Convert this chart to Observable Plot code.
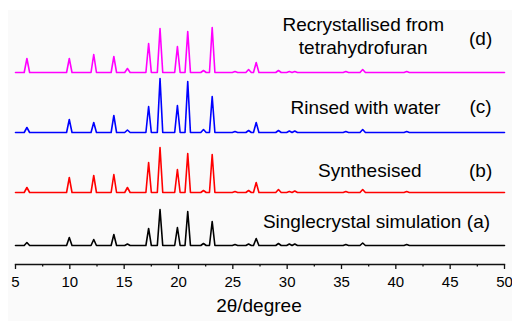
<!DOCTYPE html>
<html>
<head>
<meta charset="utf-8">
<script src="https://cdn.jsdelivr.net/npm/d3@7"></script>
<script src="https://cdn.jsdelivr.net/npm/@observablehq/plot@0.6"></script>
<style>
  html, body { margin: 0; padding: 0; background: #ffffff; }
  #wrap { position: relative; width: 512px; height: 321px; overflow: hidden; }
  #bg { position: absolute; left: 8px; top: 10px; width: 504px; height: 311px; background: #fafafa; }
  #chart { position: absolute; left: 0; top: 0; }
</style>
</head>
<body>
<div id="wrap"><div id="bg"></div><div id="chart"></div></div>
<script>
// Peak positions (2θ, degrees)
const peakPositions = [6.05, 9.95, 12.2, 14.05, 15.3, 17.25, 18.3, 19.9, 20.85, 22.3, 23.1, 25.2, 26.45, 27.15, 29.2, 30.2, 30.7, 35.4, 36.95, 41.0];
// Peak intensities (arbitrary units) for each pattern
const heightsA = [3, 8, 6, 11, 1.5, 17, 36, 18, 34, 2, 24, 1, 1.5, 7, 2, 1.5, 1.5, 1, 2.5, 1];
const heightsB = [5, 15, 17, 18, 5, 30, 45, 23, 39, 2, 38, 1, 2, 10, 3, 1, 1.5, 1, 3, 1];
const heightsC = [5, 13, 10, 17, 2.5, 26, 54, 27, 51, 3, 36, 1, 2, 10, 2, 1.5, 1.5, 1, 3, 1];
const heightsD = [14, 14, 18, 16, 4, 29, 44, 26, 41, 2, 45, 1, 3, 10, 2, 1, 1, 1, 3, 1];
// Vertical offsets of the stacked patterns
const offsets = [0, 53, 113, 173];
const seriesNames = ["Singlecrystal simulation", "Synthesised", "Rinsed with water", "Recrystallised from\ntetrahydrofuran"];
const seriesLetters = ["(a)", "(b)", "(c)", "(d)"];
const seriesColors = ["#000000", "#ff0000", "#0000ff", "#ff00ff"];
const xTicks = [5, 10, 15, 20, 25, 30, 35, 40, 45, 50];
const xMinorTicks = [7.5, 12.5, 17.5, 22.5, 27.5, 32.5, 37.5, 42.5, 47.5];
const xLabel = "2θ/degree";

const allHeights = [heightsA, heightsB, heightsC, heightsD];
const halfWidth = 0.25;

function buildRows(heights, off) {
  const rows = [{x: 5, y: off}, {x: 50, y: off}];
  peakPositions.forEach((p, i) => {
    rows.push({x: p - halfWidth, y: off});
    rows.push({x: p, y: off + heights[i]});
    rows.push({x: p + halfWidth, y: off});
  });
  rows.sort((a, b) => a.x - b.x);
  return rows;
}

const lineMarks = allHeights.map((h, i) =>
  Plot.line(buildRows(h, offsets[i]), {x: "x", y: "y", stroke: seriesColors[i], strokeWidth: 1.6, curve: "linear"})
);

// label baselines (in y units)
const nameY = [18, 69, 132, 192];
const letterY = [18, 69, 133, 201];

const plot = Plot.plot({
  width: 512,
  height: 321,
  marginLeft: 15,
  marginRight: 8,
  marginTop: 0,
  marginBottom: 57,
  style: {background: "transparent", fontFamily: "Liberation Sans, Arial, sans-serif", color: "#000"},
  x: {domain: [5, 50]},
  y: {domain: [0, 245], range: [245, 0], axis: null},
  marks: [
    ...lineMarks,
    Plot.frame({anchor: "bottom", strokeWidth: 1.3, stroke: "#111"}),
    Plot.axisX({ticks: xTicks, tickSize: 5, tickPadding: 7, fontSize: 15, strokeWidth: 1.3, stroke: "#111", label: null, tickFormat: d => String(d)}),
    Plot.axisX({ticks: xMinorTicks, tickSize: 2.5, strokeWidth: 1.3, stroke: "#111", text: null, label: null}),
    Plot.text([xLabel], {x: [27.4], frameAnchor: "bottom", dy: 47, lineAnchor: "bottom", fontSize: 19, text: d => d, fill: "#000"}),
    Plot.text(seriesNames, {x: [36.9, 37.6, 37.2, 37.0], y: nameY, text: d => d, lineAnchor: "bottom", textAnchor: "middle", fontSize: 19, lineHeight: 1.17, fill: "#000"}),
    Plot.text(seriesLetters, {x: [47.6, 47.8, 47.8, 47.8], y: letterY, text: d => d, lineAnchor: "bottom", textAnchor: "middle", fontSize: 19, fill: "#000"})
  ]
});
document.getElementById("chart").appendChild(plot);
</script>
</body>
</html>
